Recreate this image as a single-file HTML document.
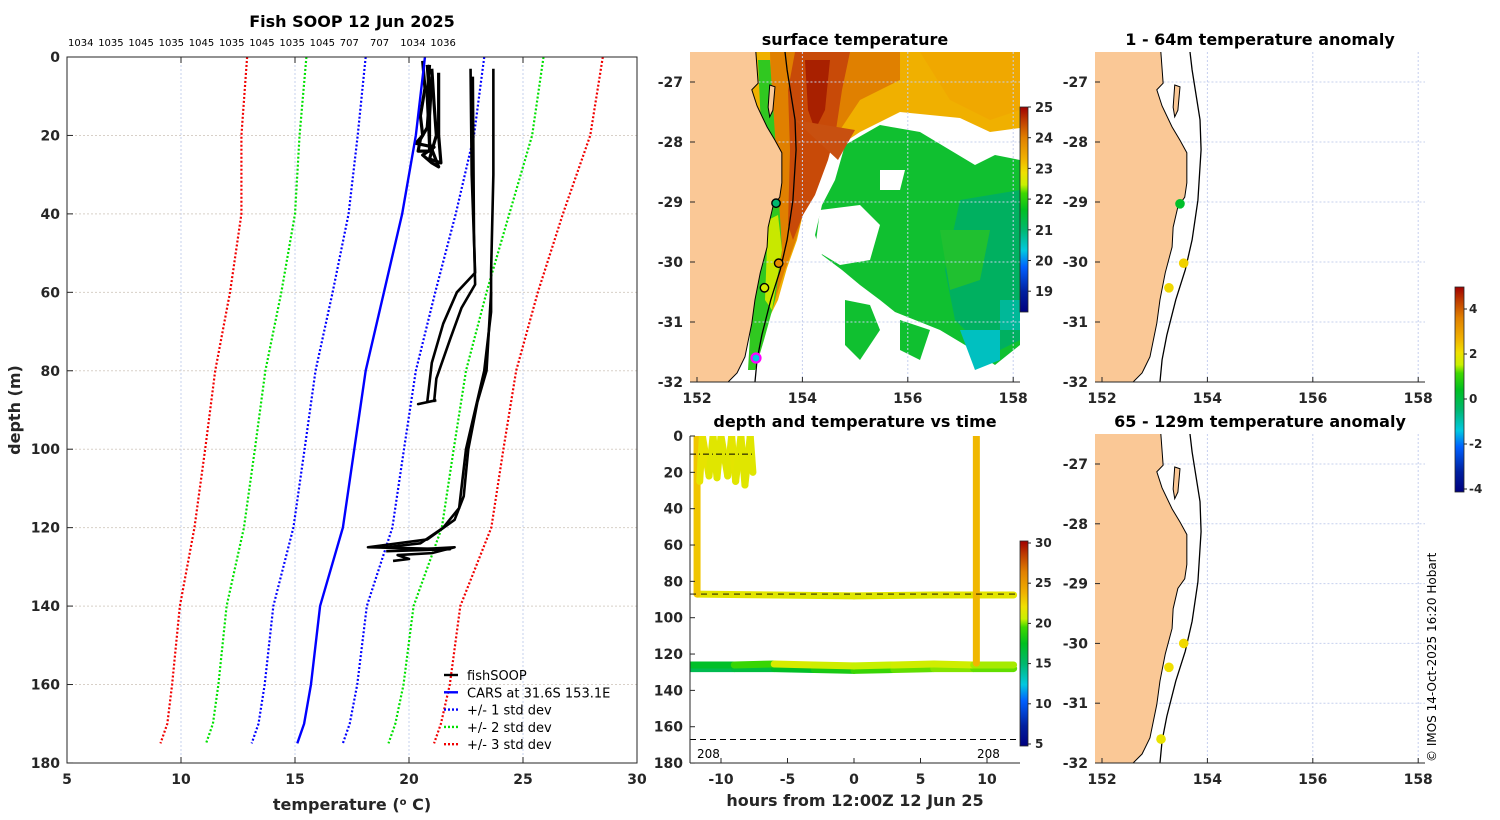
<!DOCTYPE html>
<html><head><meta charset="utf-8">
<style>
html,body{margin:0;padding:0;background:#fff;}
svg{display:block;font-family:"DejaVu Sans","Liberation Sans",sans-serif;}
.tk{font-size:14px;fill:#262626;font-weight:bold;}
.tt{font-size:16px;font-weight:bold;fill:#000;}
</style></head>
<body>
<svg id="fig" width="1500" height="820" viewBox="0 0 1500 820" xmlns="http://www.w3.org/2000/svg">
<defs>
<linearGradient id="cmap" x1="0" y1="1" x2="0" y2="0">
<stop offset="0" stop-color="#00007f"/><stop offset="0.1" stop-color="#0020a0"/><stop offset="0.22" stop-color="#0060ff"/><stop offset="0.3" stop-color="#00c8e0"/><stop offset="0.4" stop-color="#00b870"/><stop offset="0.5" stop-color="#00c020"/><stop offset="0.58" stop-color="#40d800"/><stop offset="0.62" stop-color="#c8f000"/><stop offset="0.68" stop-color="#f0e000"/><stop offset="0.75" stop-color="#f0b000"/><stop offset="0.85" stop-color="#e08000"/><stop offset="0.93" stop-color="#c04000"/><stop offset="1" stop-color="#a00000"/>
</linearGradient>
<clipPath id="cpProf"><rect x="67" y="57" width="570" height="706"/></clipPath>
<clipPath id="cpSST"><rect x="690" y="52" width="330" height="330"/></clipPath>
<clipPath id="cpA1"><rect x="1095" y="52" width="330" height="330"/></clipPath>
<clipPath id="cpA2"><rect x="1095" y="434" width="330" height="329"/></clipPath>
<clipPath id="cpTime"><rect x="690" y="436" width="330" height="327"/></clipPath>
</defs>
<g id="root"></g>
</svg>
<script>
// ---------- DATA ----------
const profDepths = [0, 20, 40, 60, 80, 100, 120, 140, 160, 170, 175];
const carsMean   = [20.7, 20.3, 19.7, 18.9, 18.1, 17.6, 17.1, 16.1, 15.7, 15.4, 15.1];
const carsStd    = [2.6, 2.55, 2.35, 2.25, 2.2, 2.18, 2.17, 2.05, 2.03, 2.0, 2.0];
const castIds = ["1034","1035","1045","1035","1045","1035","1045","1035","1045","707","707","1034","1036"];
const traceA = [[20.6,1],[20.7,8],[20.5,15],[20.6,20],[20.3,22],[21.1,23],[20.6,25],[21.0,27],[21.3,28],[20.9,22],[20.8,10],[20.9,2]];
const traceA2 = [[20.8,2],[20.9,10],[20.8,18],[20.5,21],[20.4,24],[20.9,24],[20.9,15],[21.0,5]];
const traceA3 = [[21.0,3],[21.1,12],[21.2,20],[20.9,26],[21.4,27],[21.3,20],[21.3,4]];
const traceB = [[22.7,3],[22.75,30],[22.9,55],[22.1,60],[21.5,68],[21.0,78],[20.8,88],[20.4,88.5],[21.2,87.5]];
const traceC = [[22.8,5],[22.85,45],[22.9,58],[22.3,64],[21.8,72],[21.2,82],[21.1,88]];
const traceD = [[23.7,3],[23.7,30],[23.6,55],[23.6,65],[23.3,80],[22.9,90],[22.5,100],[22.3,110],[22.2,115],[21.5,120],[20.5,124],[19.0,125],[20.5,125.5],[22.0,125],[21.0,126.5],[19.5,127],[20.0,128],[19.3,128.5]];
const traceE = [[23.6,60],[23.4,80],[23.0,88],[22.6,100],[22.4,112],[22.0,118],[20.8,123],[18.2,125],[21.8,125.5],[19.0,126]];
const tempTicks = [5,10,15,20,25,30];
const depthTicks = [0,20,40,60,80,100,120,140,160,180];

const coastLon = [153.10,153.16,153.04,153.14,153.33,153.48,153.61,153.61,153.57,153.44,153.35,153.33,153.20,153.10,153.04,152.91,152.76,152.59];
const coastLat = [-26.5,-27.02,-27.13,-27.4,-27.75,-27.97,-28.18,-28.68,-28.92,-29.08,-29.42,-29.75,-30.18,-30.63,-31.02,-31.58,-31.85,-32.0];
const islandLon = [153.38,153.48,153.44,153.38,153.35];
const islandLat = [-27.05,-27.08,-27.47,-27.58,-27.42];
const contourLon = [153.67,153.71,153.86,153.88,153.82,153.71,153.58,153.40,153.23,153.14,153.10];
const contourLat = [-26.5,-26.8,-27.63,-28.13,-28.97,-29.63,-30.13,-30.63,-31.22,-31.63,-32.0];
const lonTicks = [152,154,156,158];
const latTicks = [-27,-28,-29,-30,-31,-32];

const sstStationLon = [153.5, 153.55, 153.28];
const sstStationLat = [-29.02, -30.02, -30.43];
const sstStationTemp = [21.0, 23.8, 22.6];
const anom1Lon = [153.48, 153.55, 153.27];
const anom1Lat = [-29.03, -30.02, -30.43];
const anom1Val = [0.3, 2.3, 2.2];
const anom2Lon = [153.55, 153.27, 153.12];
const anom2Lat = [-30.0, -30.4, -31.6];
const anom2Val = [2.2, 2.1, 2.0];

const timeTicks = [-10,-5,0,5,10];
const tdTicks = [0,20,40,60,80,100,120,140,160,180];
const trkVertAHours = [-11.8,-11.8]; const trkVertADepth=[0,87]; const trkVertATemp=[23,23];
const trkHorzHours = [-11.8,-6,0,6,12]; const trkHorzDepth=[87,87.5,88,87.5,87.5]; const trkHorzTemp=[21.5,21.5,21.3,21.5,21.5];
const trkSurfHours = [-11.6,-11.4,-10.9,-10.6,-10.3,-10,-9.5,-9.2,-8.9,-8.5,-8.2,-7.8,-7.6];
const trkSurfDepth = [25,0,22,0,23,0,22,0,25,0,27,0,20];
const trkSurfTemp  = [21.3,22,21.3,21.5,21.3,21.5,21.3,21.5,21.6,21.3,21.5,21.3,21.5];
const trkVertBHours = [9.2,9.2]; const trkVertBDepth=[0,125]; const trkVertBTemp=[23.5,23.5];
const trkBot1Hours = [-12.3,-9,-6,-3,0,3,6,9,12];
const trkBot1Depth = [126,126,125.5,126,126.5,126,125.5,126,126];
const trkBot1Temp  = [17,17.5,21,21,20.5,20.5,21,20.5,20];
const trkBot2Hours = [-12.3,-9,-6,-3,0,3,6,9,12];
const trkBot2Depth = [128,128,128,128.5,129,128.5,128,128,128];
const trkBot2Temp  = [16,16,17,17.5,19,19.5,20,20,19.5];

// ---------- HELPERS ----------
const NS="http://www.w3.org/2000/svg";
const root=document.getElementById('root');
function mk(tag,attrs,parent,text){const e=document.createElementNS(NS,tag);for(const k in attrs)e.setAttribute(k,attrs[k]);if(text!==undefined)e.textContent=text;(parent||root).appendChild(e);return e;}
const stops=[[0,[0,0,127]],[0.1,[0,32,160]],[0.22,[0,96,255]],[0.3,[0,200,224]],[0.4,[0,184,112]],[0.5,[0,192,32]],[0.58,[64,216,0]],[0.62,[200,240,0]],[0.68,[240,224,0]],[0.75,[240,176,0]],[0.85,[224,128,0]],[0.93,[192,64,0]],[1,[160,0,0]]];
function cmap(f){f=Math.max(0,Math.min(1,f));for(let i=1;i<stops.length;i++){if(f<=stops[i][0]){const a=stops[i-1],b=stops[i];const t=(f-a[0])/(b[0]-a[0]);const c=a[1].map((v,j)=>Math.round(v+(b[1][j]-v)*t));return `rgb(${c[0]},${c[1]},${c[2]})`;}}return 'rgb(160,0,0)';}

// ---------- PROFILE PANEL ----------
const px=t=>67+(t-5)*22.8, py=d=>57+d*3.922;
const gP=mk('g',{});

mk('rect',{x:67,y:57,width:570,height:706,fill:'#fff'},gP);
tempTicks.forEach(t=>{if(t>5&&t<30)mk('line',{x1:px(t),x2:px(t),y1:57,y2:763,stroke:'#c6d0ee','stroke-width':1,'stroke-dasharray':'2,2'},gP);});
depthTicks.forEach(d=>{if(d>0&&d<180)mk('line',{x1:67,x2:637,y1:py(d),y2:py(d),stroke:'#d8d0c8','stroke-width':1,'stroke-dasharray':'2,2'},gP);});
const gPc=mk('g',{'clip-path':'url(#cpProf)'},gP);
function profLine(k,color,dash,name){const pts=profDepths.map((d,i)=>px(carsMean[i]+k*carsStd[i])+','+py(d)).join(' ');const l=mk('polyline',{points:pts,fill:'none',stroke:color,'stroke-width':dash?2.2:2.4,'stroke-dasharray':dash?'2,2':'none'},gPc);}
profLine(-3,'#f00000',true,'minus-3-std-line');profLine(3,'#f00000',true,'plus-3-std-line');
profLine(-2,'#00e000',true,'minus-2-std-line');profLine(2,'#00e000',true,'plus-2-std-line');
profLine(-1,'#0000ff',true,'minus-1-std-line');profLine(1,'#0000ff',true,'plus-1-std-line');
[traceA,traceA2,traceA3,traceB,traceC,traceD,traceE].forEach((tr,i)=>{const l=mk('polyline',{points:tr.map(p=>px(p[0])+','+py(p[1])).join(' '),fill:'none',stroke:'#000','stroke-width':i<3?3.2:2.6,'stroke-linejoin':'round'},gPc);});
profLine(0,'#0000ff',false,'cars-mean-line');
mk('rect',{x:67,y:57,width:570,height:706,fill:'none',stroke:'#262626','stroke-width':1},gP);
tempTicks.forEach(t=>{mk('line',{x1:px(t),x2:px(t),y1:763,y2:757,stroke:'#262626'},gP);mk('line',{x1:px(t),x2:px(t),y1:57,y2:63,stroke:'#262626'},gP);const l=mk('text',{x:px(t),y:784,'text-anchor':'middle',class:'tk'},gP,t);});
depthTicks.forEach(d=>{mk('line',{x1:67,x2:73,y1:py(d),y2:py(d),stroke:'#262626'},gP);const l=mk('text',{x:60,y:py(d)+5,'text-anchor':'end',class:'tk'},gP,d);});
castIds.forEach((c,i)=>{const l=mk('text',{x:68+i*30.2,y:46,'font-size':'10px',fill:'#000'},gP,c);});
{const t=mk('text',{x:352,y:27,'text-anchor':'middle',class:'tt'},gP,'Fish SOOP 12 Jun 2025');}
{const t=mk('text',{x:352,y:810,'text-anchor':'middle','font-size':'16px','font-weight':'bold',fill:'#262626'},gP);
t.innerHTML='temperature (<tspan baseline-shift="super" font-size="10px">o</tspan> C)';}
{const t=mk('text',{x:20,y:410,'text-anchor':'middle','font-size':'16px','font-weight':'bold',fill:'#262626',transform:'rotate(-90 20 410)'},gP,'depth (m)');}
const gL=mk('g',{},gP);
const legItems=[['fishSOOP','#000',false],['CARS at 31.6S 153.1E','#0000ff',false],['+/- 1 std dev','#0000ff',true],['+/- 2 std dev','#00e000',true],['+/- 3 std dev','#f00000',true]];
legItems.forEach((it,i)=>{const y=675+i*17.3;const e=mk('g',{},gL);
mk('line',{x1:444,x2:458,y1:y,y2:y,stroke:it[1],'stroke-width':2.4,'stroke-dasharray':it[2]?'2,2':'none'},e);
mk('text',{x:467,y:y+5,'font-size':'13px',fill:'#000'},e,it[0]);});

// ---------- MAP HELPERS ----------
function mapFns(X0,Y27,sy){return [lon=>X0+(lon-152)*52.7, lat=>Y27+(-27-lat)*sy];}
function drawBase(g,clip,mx,my,top,bottom,isSST){
 const gc=mk('g',{'clip-path':clip},g);
 if(isSST) drawSST(gc,mx,my);
 latTicks.forEach(la=>mk('line',{x1:mx(151.8),x2:mx(158.2),y1:my(la),y2:my(la),stroke:'#c6d0ee','stroke-dasharray':'2,2'},gc));
 lonTicks.forEach(lo=>mk('line',{x1:mx(lo),x2:mx(lo),y1:top,y2:bottom,stroke:'#c6d0ee','stroke-dasharray':'2,2'},gc));
 const land=[[151.5,-26.3]].concat(coastLon.map((lo,i)=>[lo,coastLat[i]])).concat([[152.5,-32.3],[151.5,-32.3]]);
 land[1]=[coastLon[0],-26.3];
 const lp=mk('polygon',{points:land.map(p=>mx(p[0])+','+my(p[1])).join(' '),fill:'#fac896',stroke:'#000','stroke-width':1},gc);
 
 mk('polygon',{points:islandLon.map((lo,i)=>mx(lo)+','+my(islandLat[i])).join(' '),fill:'#fac896',stroke:'#000','stroke-width':1},gc);
 const c=mk('polyline',{points:[[contourLon[0],-26.3]].concat(contourLon.map((lo,i)=>[lo,contourLat[i]])).concat([[153.08,-32.3]]).map(p=>mx(p[0])+','+my(p[1])).join(' '),fill:'none',stroke:'#000','stroke-width':1.3},gc);
 
 return gc;
}
function axesMap(g,x0,top,bottom,mx,my){
 mk('line',{x1:x0,x2:x0+330,y1:bottom,y2:bottom,stroke:'#262626'},g);
 lonTicks.forEach(lo=>{mk('line',{x1:mx(lo),x2:mx(lo),y1:bottom,y2:bottom-5,stroke:'#262626'},g);const t=mk('text',{x:mx(lo),y:bottom+21,'text-anchor':'middle',class:'tk'},g,lo);});
 latTicks.forEach(la=>{const y=my(la);if(y<top-1||y>bottom+1)return;mk('line',{x1:x0,x2:x0+5,y1:y,y2:y,stroke:'#262626'},g);const t=mk('text',{x:x0-7,y:y+5,'text-anchor':'end',class:'tk'},g,la);});
}
function drawSST(g,mx,my){
 const P=(pts,fill)=>mk('polygon',{points:pts.map(p=>p.join(',')).join(' '),fill:fill},g);
 P([[740,52],[1020,52],[1020,380],[740,380]],'#ffffff');
 P([[752,52],[1020,52],[1020,128],[990,132],[960,118],[900,112],[860,132],[830,152],[815,178],[805,205],[797,240],[787,268],[778,300],[768,320],[760,330],[755,300],[758,200],[752,120]],'#f0b000');
 P([[770,52],[900,52],[900,80],[860,100],[840,130],[820,170],[805,205],[796,240],[785,270],[775,300],[768,270],[776,200],[772,120]],'#e08000');
 P([[795,52],[850,52],[842,90],[836,130],[828,160],[815,195],[803,215],[793,240],[788,225],[790,150],[788,90]],'#c84a08');
 P([[805,60],[830,60],[825,110],[815,130],[808,110]],'#a82000');
 P([[920,52],[1020,52],[1020,110],[990,120],[950,100]],'#f0a800');
 P([[845,145],[880,125],[920,132],[950,150],[975,165],[995,155],[1020,160],[1020,345],[995,365],[965,345],[940,330],[915,320],[895,312],[880,300],[860,285],[842,270],[822,255],[815,235],[822,205],[835,180]],'#10c030');
 P([[960,200],[1020,190],[1020,340],[990,355],[955,320],[945,270]],'#00b060');
 P([[940,230],[990,230],[980,280],[950,290]],'#20c030');
 P([[820,210],[860,205],[880,225],[870,260],[840,265],[815,250]],'#ffffff');
 P([[880,170],[905,170],[900,190],[880,190]],'#ffffff');
 P([[790,280],[830,275],[850,300],[860,330],[850,382],[790,382],[775,330]],'#ffffff');
 P([[845,300],[870,305],[880,330],[860,360],[845,345]],'#10c030');
 P([[900,320],[930,330],[920,360],[900,350]],'#10c030');
 P([[960,330],[1000,330],[1000,360],[975,370]],'#00c0c0');
 P([[1000,300],[1020,300],[1020,330],[1000,330]],'#00b898');
 P([[758,60],[770,60],[776,150],[782,250],[775,300],[764,340],[755,370],[748,370],[752,300],[760,250],[762,150]],'#30c820');
 P([[768,220],[778,215],[782,250],[772,310],[765,300]],'#c8e800');
 P([[795,120],[855,130],[838,160]],'#c85010');
}

// ---------- SST MAP ----------
{const [mx,my]=mapFns(697,82,60);
const g=mk('g',{});
const gc=drawBase(g,'url(#cpSST)',mx,my,52,382,true);
sstStationLon.forEach((lo,i)=>{const c=mk('circle',{cx:mx(lo),cy:my(sstStationLat[i]),r:4.2,fill:cmap((sstStationTemp[i]-18.32)/6.68),stroke:'#000','stroke-width':1.4},gc);});
{const c=mk('circle',{cx:756,cy:358,r:4.5,fill:'#00c8e0',stroke:'#ff00ff','stroke-width':2.2},gc);}
axesMap(g,690,52,382,mx,my);
const t=mk('text',{x:855,y:45,'text-anchor':'middle',class:'tt'},g,'surface temperature');
const cb=mk('g',{},g);
mk('rect',{x:1020,y:107,width:8,height:205,fill:'url(#cmap)',stroke:'#262626','stroke-width':0.8},cb);
[19,20,21,22,23,24,25].forEach(v=>{const y=107+(25-v)*30.7;mk('line',{x1:1028,x2:1031,y1:y,y2:y,stroke:'#262626'},cb);mk('text',{x:1035,y:y+5,'font-size':'13px','font-weight':'bold',fill:'#262626'},cb,v);});
}

// ---------- ANOMALY MAPS ----------
function anomMap(top,bottom,Y27,sy,lons,lats,vals,title,name,titleY){
 const [mx,my]=mapFns(1102,Y27,sy);
 const g=mk('g',{});
 const gc=drawBase(g,`url(#${name==='anomaly-map-shallow'?'cpA1':'cpA2'})`,mx,my,top,bottom,false);
 lons.forEach((lo,i)=>{const c=mk('circle',{cx:mx(lo),cy:my(lats[i]),r:4.8,fill:cmap((vals[i]+4.3)/9.4)},gc);});
 axesMap(g,1095,top,bottom,mx,my);
 const t=mk('text',{x:1260,y:titleY,'text-anchor':'middle',class:'tt'},g,title);
}
anomMap(52,382,82,60,anom1Lon,anom1Lat,anom1Val,'1 - 64m temperature anomaly','anomaly-map-shallow',45);
anomMap(434,763,464,59.8,anom2Lon,anom2Lat,anom2Val,'65 - 129m temperature anomaly','anomaly-map-deep',427);
{const cb=mk('g',{});
mk('rect',{x:1455,y:287,width:9,height:205,fill:'url(#cmap)',stroke:'#262626','stroke-width':0.8},cb);
[4,2,0,-2,-4].forEach(v=>{const y=399-v*22.5;mk('line',{x1:1464,x2:1467,y1:y,y2:y,stroke:'#262626'},cb);mk('text',{x:1469,y:y+4,'font-size':'12px','font-weight':'bold',fill:'#262626'},cb,v);});}

// ---------- TIME PANEL ----------
{const tx=h=>854+h*13.3, ty=d=>436+d*1.817;
const g=mk('g',{});
const gc=mk('g',{'clip-path':'url(#cpTime)'},g);
function track(H,D,T,name){const tg=mk('g',{},gc);
 for(let i=0;i<H.length-1;i++){mk('line',{x1:tx(H[i]),y1:ty(D[i]),x2:tx(H[i+1]),y2:ty(D[i+1]),stroke:cmap((T[i]+T[i+1])/2/25-0.2),'stroke-width':7,'stroke-linecap':'round'},tg);}}
track(trkBot2Hours,trkBot2Depth,trkBot2Temp,'track-bottom-2');
track(trkBot1Hours,trkBot1Depth,trkBot1Temp,'track-bottom-1');
track(trkHorzHours,trkHorzDepth,trkHorzTemp,'track-mid');
track(trkVertAHours,trkVertADepth,trkVertATemp,'track-descent-a');
track(trkVertBHours,trkVertBDepth,trkVertBTemp,'track-descent-b');
track(trkSurfHours,trkSurfDepth,trkSurfTemp,'track-surface');
mk('line',{x1:690,x2:1020,y1:ty(87),y2:ty(87),stroke:'#000','stroke-dasharray':'6,5','stroke-width':0.9},gc);
mk('line',{x1:690,x2:1020,y1:ty(167),y2:ty(167),stroke:'#000','stroke-dasharray':'6,4'},gc);
mk('line',{x1:690,x2:tx(-7.5),y1:ty(10),y2:ty(10),stroke:'#000','stroke-dasharray':'6,3,1,3'},gc);
mk('line',{x1:690,x2:690,y1:436,y2:763,stroke:'#262626'},g);
mk('line',{x1:690,x2:1020,y1:763,y2:763,stroke:'#262626'},g);
timeTicks.forEach(h=>{mk('line',{x1:tx(h),x2:tx(h),y1:763,y2:758,stroke:'#262626'},g);const t=mk('text',{x:tx(h),y:784,'text-anchor':'middle',class:'tk'},g,h);});
tdTicks.forEach(d=>{mk('line',{x1:690,x2:695,y1:ty(d),y2:ty(d),stroke:'#262626'},g);const t=mk('text',{x:683,y:ty(d)+5,'text-anchor':'end',class:'tk'},g,d);});
mk('text',{x:697,y:758,'font-size':'12px',fill:'#000'},g,'208');
mk('text',{x:977,y:758,'font-size':'12px',fill:'#000'},g,'208');
const t=mk('text',{x:855,y:427,'text-anchor':'middle',class:'tt'},g,'depth and temperature vs time');
const xl=mk('text',{x:855,y:806,'text-anchor':'middle','font-size':'16px','font-weight':'bold',fill:'#262626'},g,'hours from 12:00Z 12 Jun 25');
const cb=mk('g',{},g);
mk('rect',{x:1020,y:541,width:8,height:205,fill:'url(#cmap)',stroke:'#262626','stroke-width':0.8},cb);
[5,10,15,20,25,30].forEach(v=>{const y=744-(v-5)*8.04;mk('line',{x1:1028,x2:1031,y1:y,y2:y,stroke:'#262626'},cb);mk('text',{x:1035,y:y+4,'font-size':'12px','font-weight':'bold',fill:'#262626'},cb,v);});
}
{const c=mk('text',{x:1436,y:762,'font-size':'12px',fill:'#000',transform:'rotate(-90 1436 762)'},root,'© IMOS 14-Oct-2025 16:20 Hobart');}
</script>
</body></html>
